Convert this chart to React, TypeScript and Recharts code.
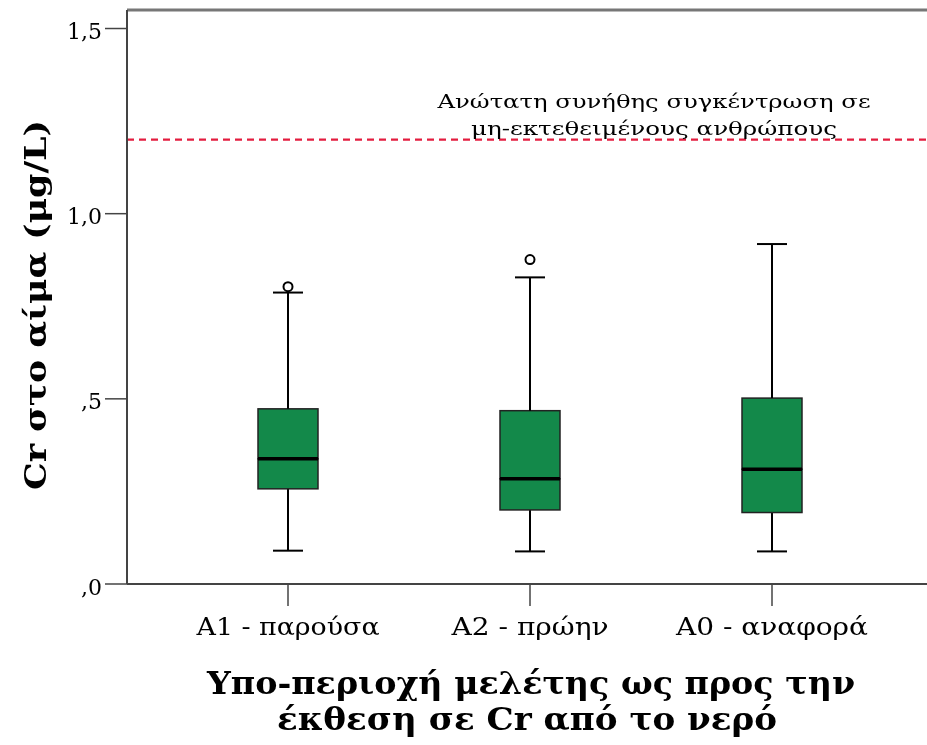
import React from "react";
import { ComposedChart, Bar, XAxis, YAxis, ReferenceLine } from "recharts";

// box plot summary per sub-area (µg/L)
const categories = ["A1 - παρούσα", "A2 - πρώην", "A0 - αναφορά"];
const minValues = [0.09, 0.088, 0.088];
const q1Values = [0.257, 0.2, 0.193];
const medianValues = [0.338, 0.284, 0.31];
const q3Values = [0.473, 0.468, 0.502];
const maxValues = [0.787, 0.828, 0.918];
const outlierValues: (number | null)[] = [0.803, 0.876, null];

const referenceValue = 1.2;
const referenceLabel = ["Ανώτατη συνήθης συγκέντρωση σε", "μη-εκτεθειμένους ανθρώπους"];

const yMax = 1.55;
const yTicks = [0, 0.5, 1, 1.5];
const yTickLabels = [",0", ",5", "1,0", "1,5"];
const xTickWidths = [183, 157, 192];
const yTitle = "Cr στο αίμα (μg/L)";
const xTitle = ["Υπο-περιοχή μελέτης ως προς την", "έκθεση σε Cr από το νερό"];

const W = 927;
const H = 745;
const OVERHANG = 20; // plot frame runs past the right edge, as in the cropped original
const GREEN = "#13894a";
const INK = "#000";
const SERIF = "'DejaVu Serif', 'Liberation Serif', serif";

const data = categories.map((name, i) => ({
  name,
  base: minValues[i],
  lowWhisker: q1Values[i] - minValues[i],
  boxLow: medianValues[i] - q1Values[i],
  boxHigh: q3Values[i] - medianValues[i],
  highWhisker: maxValues[i] - q3Values[i],
  outlierGap: outlierValues[i] == null ? 0 : (outlierValues[i] as number) - maxValues[i],
  outlier: outlierValues[i],
}));

const LowWhisker = (p: any) => {
  const cx = p.x + p.width / 2;
  const bottom = p.y + p.height;
  return (
    <g>
      <line x1={cx} x2={cx} y1={p.y} y2={bottom} stroke={INK} strokeWidth={2} />
      <line x1={cx - 15} x2={cx + 15} y1={bottom} y2={bottom} stroke={INK} strokeWidth={2} />
    </g>
  );
};

const HighWhisker = (p: any) => {
  const cx = p.x + p.width / 2;
  return (
    <g>
      <line x1={cx} x2={cx} y1={p.y} y2={p.y + p.height} stroke={INK} strokeWidth={2} />
      <line x1={cx - 15} x2={cx + 15} y1={p.y} y2={p.y} stroke={INK} strokeWidth={2} />
    </g>
  );
};

const BoxLow = (p: any) => (
  <rect x={p.x} y={p.y} width={p.width} height={p.height} fill={GREEN} stroke="#222" strokeWidth={1.5} />
);

const BoxHigh = (p: any) => (
  <g>
    <rect x={p.x} y={p.y} width={p.width} height={p.height} fill={GREEN} stroke="#222" strokeWidth={1.5} />
    <line x1={p.x} x2={p.x + p.width} y1={p.y + p.height} y2={p.y + p.height} stroke={INK} strokeWidth={3.5} />
  </g>
);

const Outlier = (p: any) => {
  if (p.payload == null || p.payload.outlier == null) return <g />;
  return <circle cx={p.x + p.width / 2} cy={p.y} r={4.5} fill="#fff" stroke={INK} strokeWidth={2} />;
};

const XTick = (p: any) => {
  const i = categories.indexOf(p.payload.value);
  return (
    <text
      x={p.x}
      y={p.y + 15}
      textAnchor="middle"
      dominantBaseline="central"
      fontFamily={SERIF}
      fontSize={24}
      fill={INK}
      textLength={xTickWidths[i]}
      lengthAdjust="spacingAndGlyphs"
    >
      {p.payload.value}
    </text>
  );
};

const YTick = (p: any) => (
  <text
    x={p.x}
    y={p.y + 3}
    textAnchor="end"
    dominantBaseline="central"
    fontFamily={SERIF}
    fontSize={22}
    fill={INK}
  >
    {yTickLabels[yTicks.indexOf(p.payload.value)]}
  </text>
);

const RefLabel = (props: any) => {
  const vb = props.viewBox || {};
  const y = vb.y ?? 140;
  return (
    <g fontFamily={SERIF} fontSize={19} fill={INK} textAnchor="middle">
      <text x={654} y={y - 39} dominantBaseline="central" textLength={433} lengthAdjust="spacingAndGlyphs">
        {referenceLabel[0]}
      </text>
      <text x={654} y={y - 12} dominantBaseline="central" textLength={366} lengthAdjust="spacingAndGlyphs">
        {referenceLabel[1]}
      </text>
    </g>
  );
};

export default function App() {
  return (
    <div style={{ position: "fixed", left: 0, top: 0, width: W, height: H, overflow: "hidden" }}>
      <style>{"html, body { margin: 0; overflow: hidden; }"}</style>
      <ComposedChart
        width={W + OVERHANG}
        height={H}
        data={data}
        margin={{ top: 10, right: 0, bottom: 131, left: 0 }}
        barSize={60}
      >
        <XAxis
          dataKey="name"
          padding={{ left: 40, right: 34 + OVERHANG }}
          height={30}
          tickSize={22}
          tickMargin={6}
          axisLine={{ stroke: "#444", strokeWidth: 2 }}
          tickLine={{ stroke: "#444", strokeWidth: 1.5 }}
          tick={<XTick />}
        />
        <YAxis
          domain={[0, yMax]}
          ticks={yTicks}
          allowDataOverflow
          width={127}
          tickSize={22}
          tickMargin={3}
          axisLine={{ stroke: "#444", strokeWidth: 2 }}
          tickLine={{ stroke: "#444", strokeWidth: 1.5 }}
          tick={<YTick />}
        />
        <ReferenceLine y={yMax} stroke="#777" strokeWidth={3} />
        <ReferenceLine
          y={referenceValue}
          stroke="#e31d3f"
          strokeWidth={2.2}
          strokeDasharray="7 5"
          label={<RefLabel />}
        />
        <Bar dataKey="base" stackId="box" fill="none" isAnimationActive={false} />
        <Bar dataKey="lowWhisker" stackId="box" shape={<LowWhisker />} isAnimationActive={false} />
        <Bar dataKey="boxLow" stackId="box" shape={<BoxLow />} isAnimationActive={false} />
        <Bar dataKey="boxHigh" stackId="box" shape={<BoxHigh />} isAnimationActive={false} />
        <Bar dataKey="highWhisker" stackId="box" shape={<HighWhisker />} isAnimationActive={false} />
        <Bar dataKey="outlierGap" stackId="box" shape={<Outlier />} isAnimationActive={false} />
      </ComposedChart>
      <svg
        width={W}
        height={H}
        style={{ position: "absolute", left: 0, top: 0, pointerEvents: "none" }}
      >
        <text
          transform="translate(35 305) rotate(-90)"
          textAnchor="middle"
          dominantBaseline="central"
          fontFamily={SERIF}
          fontWeight="bold"
          fontSize={30}
          fill={INK}
          textLength={370}
          lengthAdjust="spacingAndGlyphs"
        >
          {yTitle}
        </text>
        <g fontFamily={SERIF} fontWeight="bold" fontSize={32} fill={INK} textAnchor="middle">
          <text x={531} y={683} dominantBaseline="central" textLength={648} lengthAdjust="spacingAndGlyphs">
            {xTitle[0]}
          </text>
          <text x={527} y={719} dominantBaseline="central" textLength={500} lengthAdjust="spacingAndGlyphs">
            {xTitle[1]}
          </text>
        </g>
      </svg>
    </div>
  );
}
